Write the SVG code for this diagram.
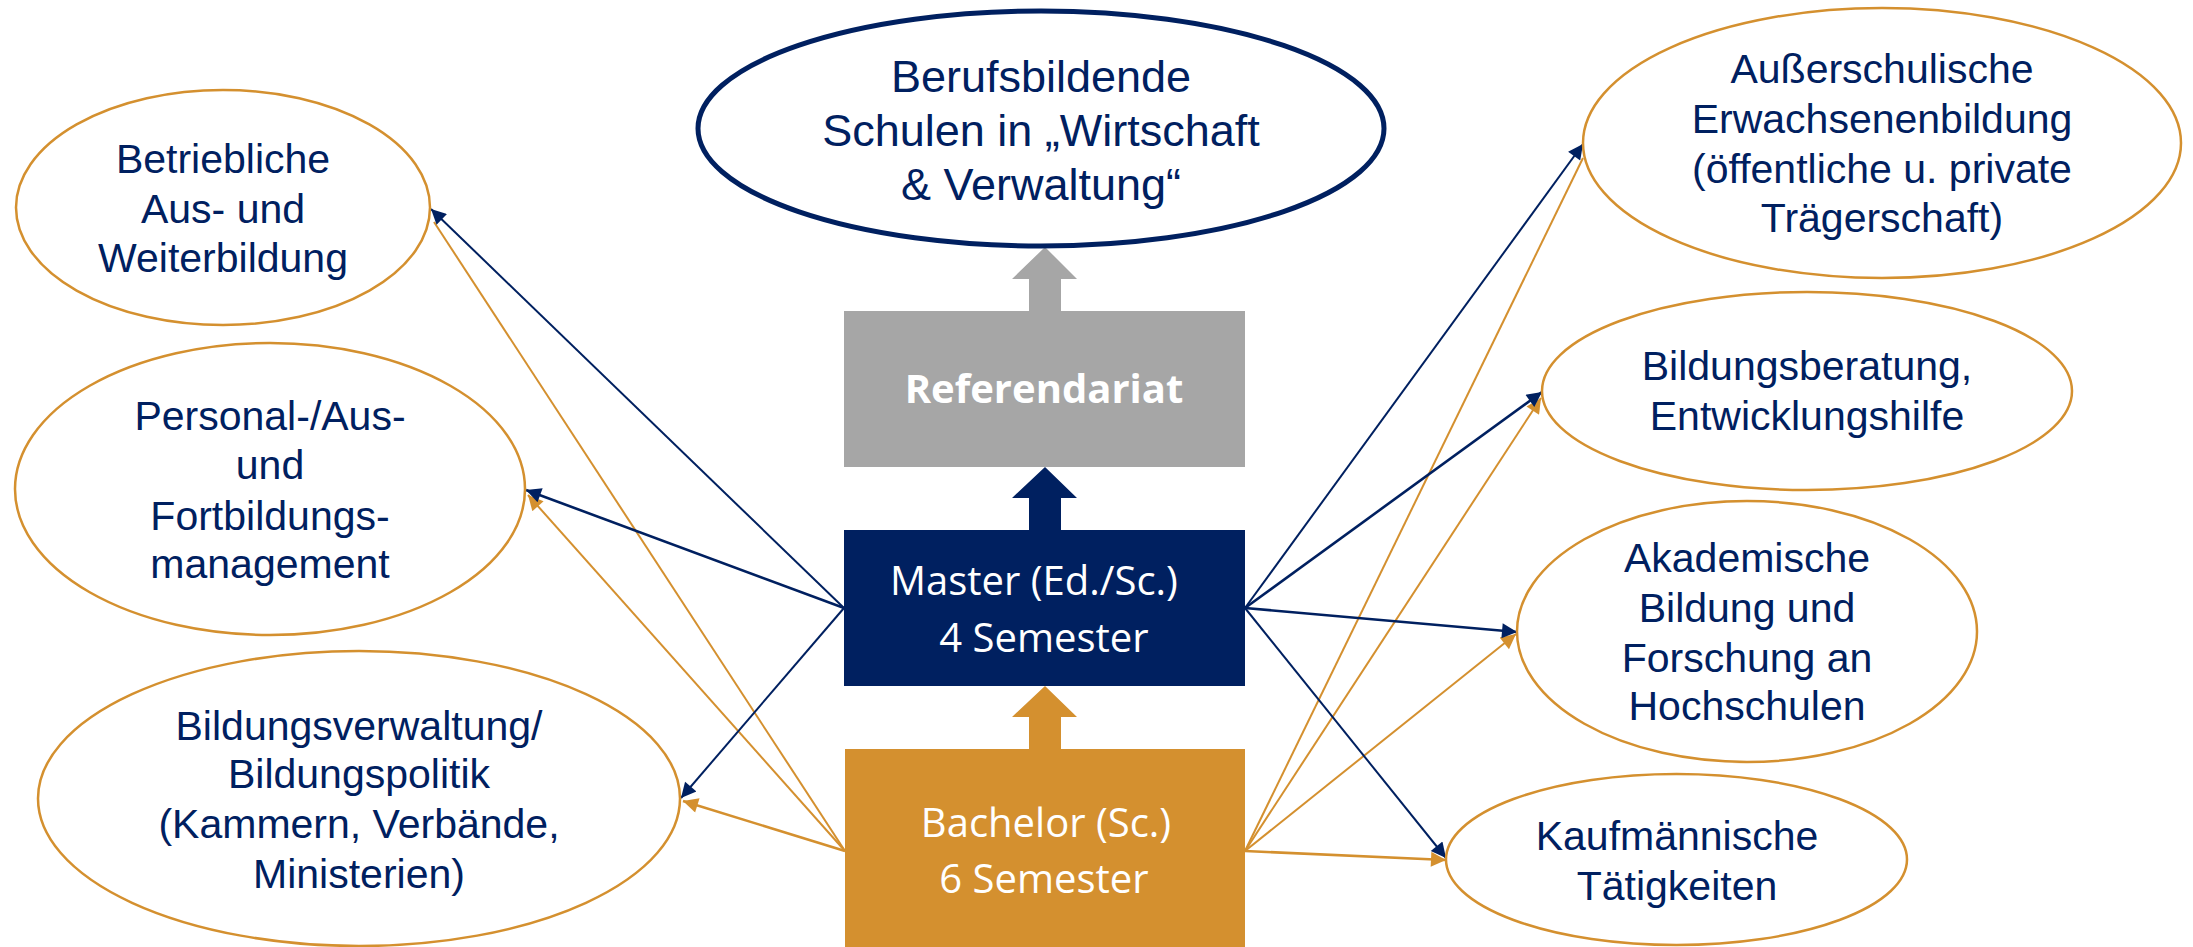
<svg xmlns="http://www.w3.org/2000/svg" width="2193" height="947" viewBox="0 0 2193 947">
<style>
.oe{fill:#fff;stroke:#D4902F;stroke-width:2.5}
.t{font-family:"Liberation Sans",Arial,sans-serif;font-size:41px;fill:#002060;text-anchor:middle}
.bt{font-family:"Open Sans","Noto Sans",sans-serif;font-size:40px;fill:#fff;text-anchor:middle}
.n{stroke:#002060;stroke-width:2;fill:none}
.nb{stroke:#002060;stroke-width:2.6;fill:none}
.o{stroke:#D4902F;stroke-width:2;fill:none}
.ob{stroke:#D4902F;stroke-width:2.6;fill:none}
</style>
<defs>
<marker id="an" viewBox="0 0 10 10" refX="10" refY="5" markerUnits="userSpaceOnUse" markerWidth="18" markerHeight="15" orient="auto"><path d="M0,0 L10,5 L0,10 z" fill="#002060"/></marker>
<marker id="ao" viewBox="0 0 10 10" refX="10" refY="5" markerUnits="userSpaceOnUse" markerWidth="18" markerHeight="15" orient="auto"><path d="M0,0 L10,5 L0,10 z" fill="#D4902F"/></marker>
</defs>
<rect width="2193" height="947" fill="#fff"/>
<g id="connectors">
<line class="o" x1="845" y1="851" x2="434" y2="222"/>
<line class="o" x1="845" y1="851" x2="528" y2="495" marker-end="url(#ao)"/>
<line class="ob" x1="845" y1="851" x2="683" y2="801" marker-end="url(#ao)"/>
<line class="n" x1="844" y1="608" x2="431" y2="209" marker-end="url(#an)"/>
<line class="nb" x1="844" y1="608" x2="526" y2="490" marker-end="url(#an)"/>
<line class="n" x1="844" y1="608" x2="681" y2="798" marker-end="url(#an)"/>
<line class="o" x1="1245" y1="851" x2="1583" y2="158"/>
<line class="o" x1="1245" y1="851" x2="1541" y2="398" marker-end="url(#ao)"/>
<line class="o" x1="1245" y1="851" x2="1516" y2="634" marker-end="url(#ao)"/>
<line class="ob" x1="1245" y1="851" x2="1446" y2="860" marker-end="url(#ao)"/>
<line class="n" x1="1245" y1="608" x2="1583" y2="144" marker-end="url(#an)"/>
<line class="nb" x1="1245" y1="608" x2="1542" y2="392" marker-end="url(#an)"/>
<line class="nb" x1="1245" y1="608" x2="1517" y2="632" marker-end="url(#an)"/>
<line class="n" x1="1245" y1="608" x2="1446" y2="858" marker-end="url(#an)"/>
</g>
<g id="arrows-up">
<path d="M1029,311 L1029,279 L1012,279 L1045,247 L1077,279 L1061,279 L1061,311 z" fill="#A6A6A6"/>
<path d="M1029,530 L1029,498 L1012,498 L1045,467 L1077,498 L1061,498 L1061,530 z" fill="#002060"/>
<path d="M1029,749 L1029,717 L1012,717 L1045,686 L1077,717 L1061,717 L1061,749 z" fill="#D4902F"/>
</g>
<g id="berufsbildende">
<ellipse cx="1041" cy="128.5" rx="343" ry="117.5" fill="#fff" stroke="#002060" stroke-width="5"/>
<text class="t" style="font-size:45px" x="1041" y="92">Berufsbildende</text>
<text class="t" style="font-size:45px" x="1041" y="146">Schulen in „Wirtschaft</text>
<text class="t" style="font-size:45px" x="1041" y="200">&amp; Verwaltung“</text>
</g>
<g id="referendariat">
<rect x="844" y="311" width="401" height="156" fill="#A6A6A6"/>
<text class="bt" style="font-weight:bold" x="1044" y="403">Referendariat</text>
</g>
<g id="master">
<rect x="844" y="530" width="401" height="156" fill="#002060"/>
<text class="bt" x="1034" y="595">Master (Ed./Sc.)</text>
<text class="bt" x="1044" y="652">4 Semester</text>
</g>
<g id="bachelor">
<rect x="845" y="749" width="400" height="198" fill="#D4902F"/>
<text class="bt" x="1046" y="837">Bachelor (Sc.)</text>
<text class="bt" x="1044" y="893">6 Semester</text>
</g>
<g id="betriebliche">
<ellipse class="oe" cx="223" cy="207.5" rx="207" ry="117.5"/>
<text class="t" x="223" y="173">Betriebliche</text>
<text class="t" x="223" y="223">Aus- und</text>
<text class="t" x="223" y="272">Weiterbildung</text>
</g>
<g id="personal">
<ellipse class="oe" cx="270" cy="489" rx="255" ry="146"/>
<text class="t" x="270" y="430">Personal-/Aus-</text>
<text class="t" x="270" y="479">und</text>
<text class="t" x="270" y="530">Fortbildungs-</text>
<text class="t" x="270" y="578">management</text>
</g>
<g id="bildungsverwaltung">
<ellipse class="oe" cx="359" cy="798.5" rx="321" ry="147.5"/>
<text class="t" x="359" y="740">Bildungsverwaltung/</text>
<text class="t" x="359" y="788">Bildungspolitik</text>
<text class="t" x="359" y="838">(Kammern, Verbände,</text>
<text class="t" x="359" y="888">Ministerien)</text>
</g>
<g id="ausserschulische">
<ellipse class="oe" cx="1882" cy="143" rx="299" ry="135"/>
<text class="t" x="1882" y="83">Außerschulische</text>
<text class="t" x="1882" y="133">Erwachsenenbildung</text>
<text class="t" x="1882" y="183">(öffentliche u. private</text>
<text class="t" x="1882" y="232">Trägerschaft)</text>
</g>
<g id="bildungsberatung">
<ellipse class="oe" cx="1807" cy="391" rx="265" ry="99"/>
<text class="t" x="1807" y="380">Bildungsberatung,</text>
<text class="t" x="1807" y="430">Entwicklungshilfe</text>
</g>
<g id="akademische">
<ellipse class="oe" cx="1747" cy="631.5" rx="230" ry="130.5"/>
<text class="t" x="1747" y="572">Akademische</text>
<text class="t" x="1747" y="622">Bildung und</text>
<text class="t" x="1747" y="672">Forschung an</text>
<text class="t" x="1747" y="720">Hochschulen</text>
</g>
<g id="kaufmaennische">
<ellipse class="oe" cx="1676.5" cy="859.5" rx="230.5" ry="85.5"/>
<text class="t" x="1677" y="850">Kaufmännische</text>
<text class="t" x="1677" y="900">Tätigkeiten</text>
</g>
</svg>
